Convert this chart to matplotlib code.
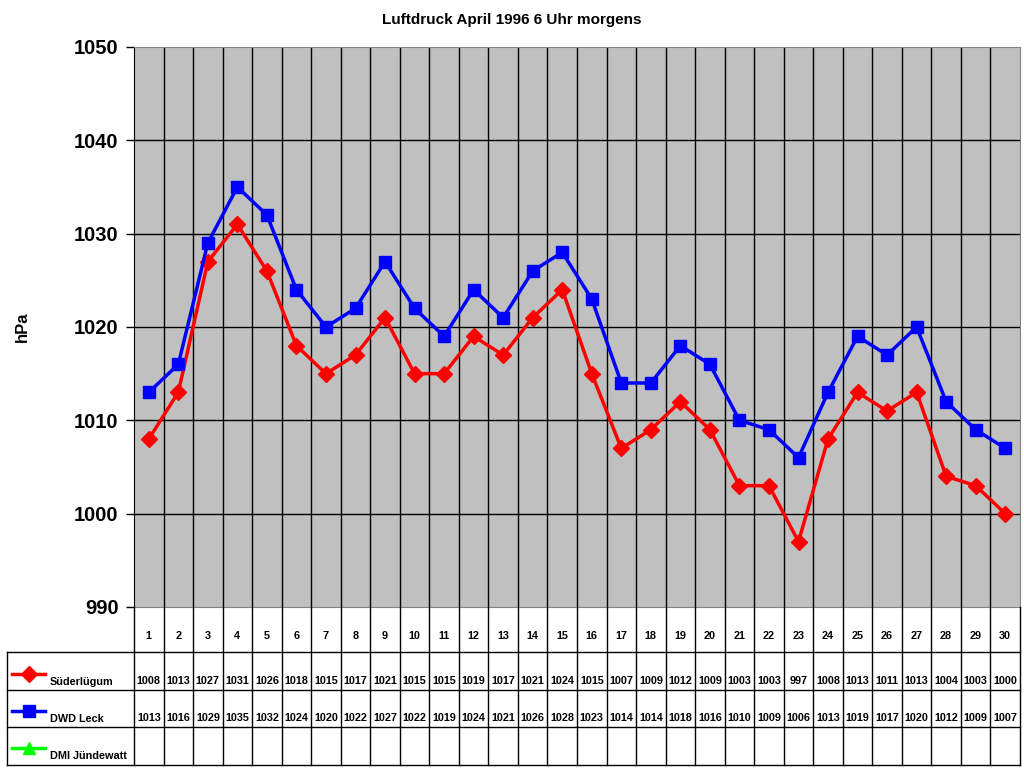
import matplotlib
matplotlib.use("Agg")
import matplotlib.pyplot as plt
import numpy as np

days = list(range(1, 31))
suederluegum = [1008, 1013, 1027, 1031, 1026, 1018, 1015, 1017, 1021, 1015, 1015, 1019, 1017,
                1021, 1024, 1015, 1007, 1009, 1012, 1009, 1003, 1003, 997, 1008, 1013, 1011,
                1013, 1004, 1003, 1000]
dwd_leck = [1013, 1016, 1029, 1035, 1032, 1024, 1020, 1022, 1027, 1022, 1019, 1024, 1021,
            1026, 1028, 1023, 1014, 1014, 1018, 1016, 1010, 1009, 1006, 1013, 1019, 1017,
            1020, 1012, 1009, 1007]
dmi_juendewatt = [None] * 30
series_names = ["Süderlügum", "DWD Leck", "DMI Jündewatt"]
y_ticks = [990, 1000, 1010, 1020, 1030, 1040, 1050]
title = "Luftdruck April 1996 6 Uhr morgens"
y_label = "hPa"

plt.rcParams['font.family'] = ['Liberation Sans', 'DejaVu Sans']

W, H = 1024, 768
fig = plt.figure(figsize=(W / 100, H / 100), dpi=100)

L, R, T, B = 134, 1020, 47, 607
ax = fig.add_axes([L / W, 1 - B / H, (R - L) / W, (B - T) / H])
ax.set_facecolor('#c0c0c0')
ax.set_xlim(0.5, 30.5)
ax.set_ylim(990, 1050)
ax.set_yticks(y_ticks)
ax.set_yticklabels([str(v) for v in y_ticks], fontsize=14.5, fontweight='bold')
ax.tick_params(axis='y', direction='out', length=6, width=1, pad=5)
ax.set_xticks([])
for v in y_ticks[1:-1]:
    ax.axhline(v, color='black', lw=1, zorder=1)
for i in range(1, 30):
    ax.axvline(i + 0.5, color='black', lw=1, zorder=1)
for s in ['top', 'right']:
    ax.spines[s].set_color('#808080')
ax.spines['left'].set_color('black')
ax.spines['bottom'].set_color('#808080')

ax.plot(days, suederluegum, color='#ff0000', lw=2.5, marker='D', markersize=8, zorder=3)
ax.plot(days, dwd_leck, color='#0000ff', lw=2.5, marker='s', markersize=9, zorder=3)

fig.text(512 / W, 1 - 20 / H, title, ha='center', va='center', fontsize=11, fontweight='bold')
fig.text(22 / W, 1 - 327 / H, y_label, ha='center', va='center', rotation=90,
         fontsize=12, fontweight='bold')

# Data table overlay
ov = fig.add_axes([0, 0, 1, 1], facecolor='none')
ov.set_xlim(0, W)
ov.set_ylim(H, 0)
ov.axis('off')

colw = (R - L) / 30
xs = [L + i * colw for i in range(31)]
row_y = [607, 652, 690, 727, 765]
lc = 'black'
for x in xs:
    ov.plot([x, x], [row_y[0], row_y[-1]], color=lc, lw=1)
ov.plot([7, 7], [row_y[1], row_y[-1]], color=lc, lw=1)
for y in row_y[1:]:
    ov.plot([7, R], [y, y], color=lc, lw=1)

for i, d in enumerate(days):
    cx = xs[i] + colw / 2
    ov.text(cx, 636, str(d), ha='center', va='center', fontsize=7.8, fontweight='bold')

rows = [suederluegum, dwd_leck, dmi_juendewatt]
text_y = [681, 718, 755]
colors = ['#ff0000', '#0000ff', '#00ff00']
markers = ['D', 's', '^']
for r, (vals, ty) in enumerate(zip(rows, text_y)):
    for i, v in enumerate(vals):
        if v is not None:
            ov.text(xs[i] + colw / 2, ty, str(v), ha='center', va='center',
                    fontsize=7.8, fontweight='bold')
    ov.plot([12, 45], [ty - 7, ty - 7], color=colors[r], lw=2.5)
    ov.plot([28.5], [ty - 7], marker=markers[r], color=colors[r], markersize=8)
    ov.text(50, ty + 1, series_names[r], ha='left', va='center', fontsize=7.8, fontweight='bold')

fig.savefig('out.png', dpi=100)
